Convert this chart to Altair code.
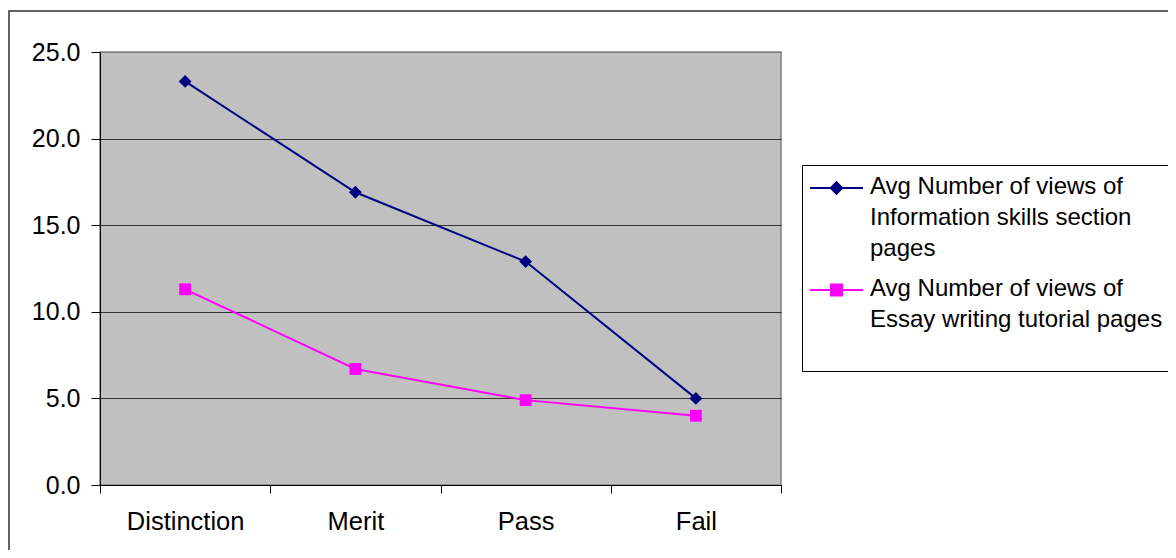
import altair as alt
import pandas as pd

# ---- data ----
categories = ["Distinction", "Merit", "Pass", "Fail"]
info_views = [23.3, 16.9, 12.9, 5.0]
essay_views = [11.3, 6.7, 4.9, 4.0]
series_lines = [
    ["Avg Number of views of", "Information skills section", "pages"],
    ["Avg Number of views of", "Essay writing tutorial pages"],
]
series_names = [" ".join(lines) for lines in series_lines]
series_colors = ["#000080", "#FF00FF"]
series_markers = ["diamond", "square"]
marker_sizes = [165, 140]
y_ticks = [0, 5, 10, 15, 20, 25]

rows = []
for name, vals in zip(series_names, [info_views, essay_views]):
    for cat, v in zip(categories, vals):
        rows.append({"category": cat, "series": name, "value": v})
df = pd.DataFrame(rows)

FONT = "Liberation Sans"

# legend symbols: a line with the marker in the middle (custom SVG paths,
# unit = half of sqrt(symbolSize))
legend_paths = [
    "M-2.4,-1.2L8.2,-1.2M2.9,-2.35L4.05,-1.2L2.9,-0.05L1.75,-1.2Z",
    "M-2.4,-1.2L8.2,-1.2M1.8,-2.3L4.0,-2.3L4.0,-0.1L1.8,-0.1Z",
]

# multi-line legend labels (an extra blank line on the last entry pads the box)
def js_arr(lines):
    return "[" + ",".join("'" + s + "'" for s in lines) + "]"

label_expr = "datum.label == '%s' ? %s : %s" % (
    series_names[0], js_arr(series_lines[0]), js_arr(series_lines[1] + [""]))

x_enc = alt.X(
    "category:N", sort=categories, bandPosition=0.5,
    scale=alt.Scale(type="band", paddingInner=0, paddingOuter=0),
    axis=alt.Axis(title=None, tickBand="extent", labelAngle=0, grid=False,
                  domainColor="black", tickColor="black", tickSize=8,
                  labelPadding=16, labelFontSize=25.5, labelColor="black",
                  labelFont=FONT),
)
y_enc = alt.Y(
    "value:Q", scale=alt.Scale(domain=[0, 25], nice=False, zero=True),
    axis=alt.Axis(title=None, values=y_ticks, format=".1f",
                  domainColor="black", tickColor="black", tickSize=9,
                  labelPadding=11, labelFontSize=25, labelColor="black",
                  labelFont=FONT, grid=True, gridWidth=1,
                  gridColor={"condition": {"test": "datum.value == 25", "value": "#808080"},
                             "value": "#333333"}),
)

frame = alt.Chart(alt.Data(values=[{}])).mark_rect(
    fill=None, stroke="#303030", strokeWidth=1.5
).encode(x=alt.value(-91), y=alt.value(-41), x2=alt.value(2000), y2=alt.value(2000))

series_layers = []
for name, col, marker, msize in zip(series_names, series_colors, series_markers, marker_sizes):
    base = alt.Chart(df).transform_filter(alt.datum.series == name)
    series_layers.append(base.mark_line(strokeWidth=2, color=col).encode(x=x_enc, y=y_enc))
    series_layers.append(base.mark_point(filled=True, opacity=1, size=msize, shape=marker,
                                         color=col).encode(x=x_enc, y=y_enc))

leg = alt.Legend(
    title=" ", titleFontSize=1, titlePadding=8,
    orient="none", legendX=702, legendY=113, padding=8,
    strokeColor="black", fillColor="white", labelFont=FONT, labelFontSize=24,
    labelColor="black", labelLimit=800, labelExpr=label_expr, labelBaseline="alphabetic",
    symbolSize=100, symbolStrokeWidth=2, labelOffset=36, rowPadding=16,
)
legend_layer = alt.Chart(df).transform_filter("false").mark_point(
    filled=True, opacity=1, strokeWidth=2
).encode(
    x=x_enc, y=y_enc,
    fill=alt.Fill("series:N", scale=alt.Scale(domain=series_names, range=series_colors), legend=leg),
    stroke=alt.Stroke("series:N", scale=alt.Scale(domain=series_names, range=series_colors), legend=leg),
    shape=alt.Shape("series:N", scale=alt.Scale(domain=series_names, range=legend_paths), legend=leg),
)

chart = alt.layer(frame, *series_layers, legend_layer).properties(
    width=681, height=433,
    autosize=alt.AutoSizeParams(type="none"),
    padding={"left": 92, "top": 44, "right": 387, "bottom": 65},
).configure(
    font=FONT,
    style={"guide-label": {"lineHeight": 31}},
).configure_view(
    fill="#C0C0C0", stroke="#808080", strokeWidth=1.5
)

chart.save("out.html", embed_options={"renderer": "svg", "actions": False})
